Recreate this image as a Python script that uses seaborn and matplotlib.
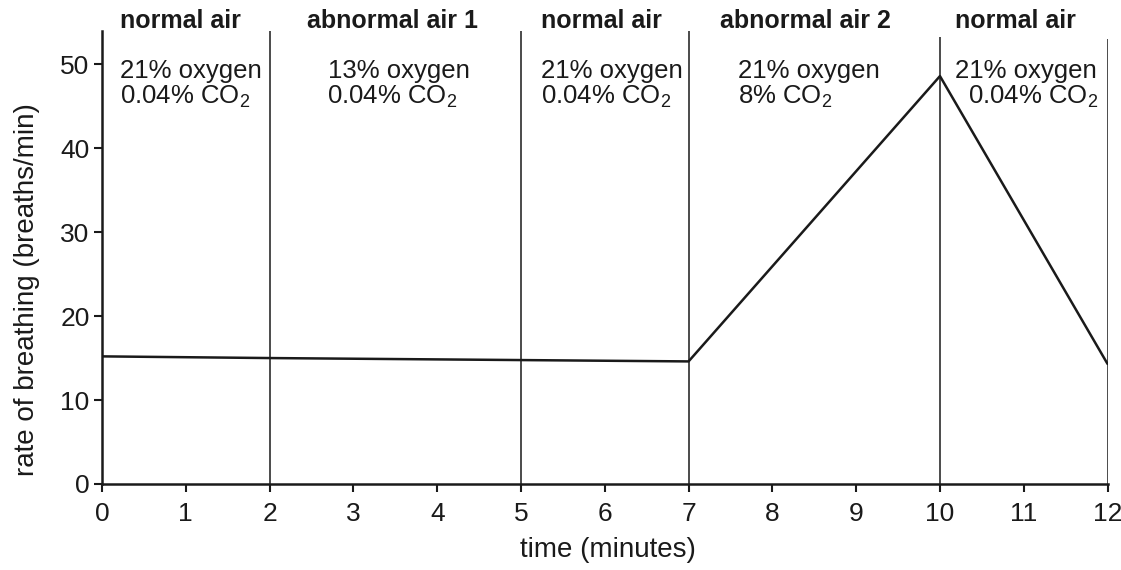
import numpy as np
import pandas as pd
import seaborn as sns
import matplotlib
matplotlib.use("Agg")
from matplotlib import pyplot as plt

# data
time_min = [0, 2, 7, 10, 12]
breath_rate = [15.2, 15.0, 14.6, 48.6, 14.3]
boundaries = [2, 5, 7, 10, 12]
boundary_tops = [54, 54, 54, 53.3, 53.0]
phase_names = ["normal air", "abnormal air 1", "normal air", "abnormal air 2", "normal air"]
phase_x = [0.21, 2.45, 5.24, 7.37, 10.18]
oxygen_lines = ["21% oxygen", "13% oxygen", "21% oxygen", "21% oxygen", "21% oxygen"]
oxygen_x = [0.21, 2.70, 5.24, 7.59, 10.18]
co2_lines = ["0.04% CO$_2$", "0.04% CO$_2$", "0.04% CO$_2$", "8% CO$_2$", "0.04% CO$_2$"]
co2_x = [0.21, 2.69, 5.24, 7.59, 10.33]

sns.set_theme(style="white")
plt.rcParams['font.family'] = ['Liberation Sans', 'DejaVu Sans']
plt.rcParams['mathtext.fontset'] = 'custom'
plt.rcParams['mathtext.rm'] = 'Liberation Sans'
plt.rcParams['mathtext.it'] = 'Liberation Sans:italic'

ink = "#1a1a1a"
df = pd.DataFrame({"time": time_min, "rate": breath_rate})

fig = plt.figure(figsize=(11.21, 5.70), dpi=100)
ax = fig.add_axes([0.091, 0.151, 0.897, 0.795])

sns.lineplot(data=df, x="time", y="rate", ax=ax, color=ink, linewidth=1.8,
             estimator=None, sort=False)
ax.vlines(boundaries, 0, boundary_tops, color=ink, linewidth=1.1)

ax.set_xlim(0, 12)
ax.set_ylim(0, 54)
ax.set_xticks(range(0, 13))
ax.set_yticks(range(0, 51, 10))
ax.tick_params(axis="both", direction="out", length=6, width=1.5, colors=ink,
               labelsize=19, bottom=True, left=True)
ax.tick_params(axis="x", pad=7)
ax.tick_params(axis="y", pad=3)

for side in ["top", "right"]:
    ax.spines[side].set_visible(False)
for side in ["left", "bottom"]:
    ax.spines[side].set_color(ink)
    ax.spines[side].set_linewidth(1.8)

ax.set_xlabel("time (minutes)", fontsize=20, color=ink)
ax.set_ylabel("rate of breathing (breaths/min)", fontsize=20, color=ink)
ax.xaxis.set_label_coords(0.503, -0.118)
ax.yaxis.set_label_coords(-0.062, 0.43)

for i in range(len(phase_names)):
    ax.text(phase_x[i], 54.3, phase_names[i], fontsize=18, fontweight="bold",
            color=ink, va="baseline", clip_on=False)
    ax.text(oxygen_x[i], 48.4, oxygen_lines[i], fontsize=18.5, color=ink, va="baseline")
    ax.text(co2_x[i], 45.3, co2_lines[i], fontsize=18.5, color=ink, va="baseline")

fig.savefig("out.png", dpi=100, facecolor="white")
